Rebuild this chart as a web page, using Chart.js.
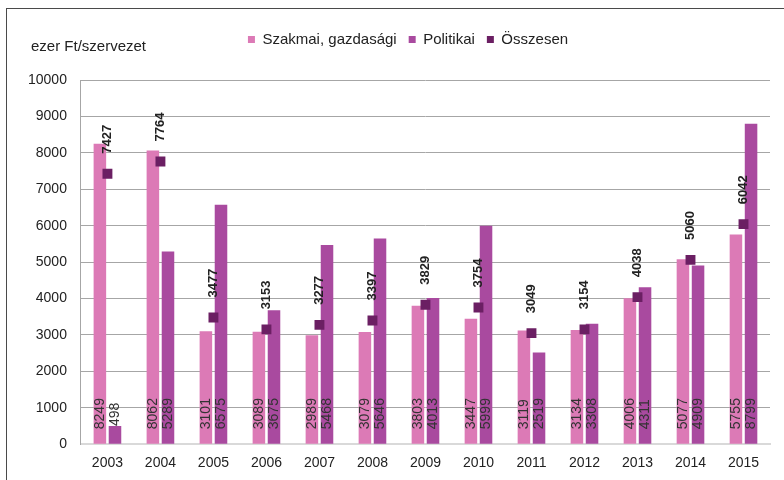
<!DOCTYPE html>
<html>
<head>
<meta charset="utf-8">
<script src="https://cdn.jsdelivr.net/npm/chart.js@4.4.1/dist/chart.umd.min.js"></script>
<style>
  html, body { margin: 0; padding: 0; background: #fff; }
  #wrap { position: relative; width: 784px; height: 480px; overflow: hidden; }
  #frame { position: absolute; left: 6px; top: 8px; width: 900px; height: 600px;
           border-left: 1.5px solid #4a4a4a; border-top: 1.5px solid #4a4a4a; }
  canvas { position: absolute; left: 0; top: 0; }
</style>
</head>
<body>
<div id="wrap">
  <div id="frame"></div>
  <canvas id="c" width="784" height="480"></canvas>
</div>
<script>
const years = ['2003','2004','2005','2006','2007','2008','2009','2010','2011','2012','2013','2014','2015'];
const szakmai = [8249, 8062, 3101, 3089, 2989, 3079, 3803, 3447, 3119, 3134, 4006, 5077, 5755];
const politikai = [498, 5289, 6575, 3675, 5468, 5646, 4013, 5999, 2519, 3308, 4311, 4909, 8799];
const osszesen = [7427, 7764, 3477, 3153, 3277, 3397, 3829, 3754, 3049, 3154, 4038, 5060, 6042];
const yTicks = [0, 1000, 2000, 3000, 4000, 5000, 6000, 7000, 8000, 9000, 10000];
const yAxisTitle = 'ezer Ft/szervezet';

const FONT = '"Liberation Sans", Arial, sans-serif';

const legendSpace = {
  id: 'legendSpace',
  beforeInit(chart) {
    const lg = chart.legend;
    if (!lg) return;
    const orig = lg.fit;
    lg.fit = function () { orig.call(lg); lg.height += 23; };
    const od = lg.draw;
    lg.draw = function () {
      lg.ctx.save(); lg.ctx.translate(16, 0); od.call(lg); lg.ctx.restore();
    };
  }
};

const labelPlugin = {
  id: 'valueLabels',
  afterDatasetsDraw(chart) {
    const ctx = chart.ctx;
    const yScale = chart.scales.y;
    const base = yScale.getPixelForValue(0);
    ctx.save();
    [0, 1].forEach(di => {
      const meta = chart.getDatasetMeta(di);
      meta.data.forEach((el, i) => {
        const v = chart.data.datasets[di].data[i];
        const y0 = (base - el.y) < 45 ? el.y : base - 15;
        ctx.save();
        ctx.translate(el.x, y0);
        ctx.rotate(-Math.PI / 2);
        ctx.font = '14px ' + FONT;
        ctx.fillStyle = '#333333';
        ctx.textAlign = 'left';
        ctx.textBaseline = 'middle';
        ctx.fillText(String(v), 0, 0);
        ctx.restore();
      });
    });
    const meta2 = chart.getDatasetMeta(2);
    meta2.data.forEach((el, i) => {
      const v = chart.data.datasets[2].data[i];
      ctx.save();
      ctx.translate(el.x, el.y - 20);
      ctx.rotate(-Math.PI / 2);
      ctx.font = 'bold 13px ' + FONT;
      ctx.fillStyle = '#222222';
      ctx.textAlign = 'left';
      ctx.textBaseline = 'middle';
      ctx.fillText(String(v), 0, 0);
      ctx.restore();
    });
    ctx.restore();
  },
  afterDraw(chart) {
    const ctx = chart.ctx;
    ctx.save();
    ctx.font = '15px ' + FONT;
    ctx.fillStyle = '#222222';
    ctx.textAlign = 'left';
    ctx.textBaseline = 'middle';
    ctx.fillText(yAxisTitle, 31, 47);
    ctx.restore();
  }
};

new Chart(document.getElementById('c'), {
  data: {
    labels: years,
    datasets: [
      { type: 'bar', label: 'Szakmai, gazdasági', data: szakmai,
        backgroundColor: '#dc7ab6', borderWidth: 0,
        barPercentage: 0.83, categoryPercentage: 0.57 },
      { type: 'bar', label: 'Politikai', data: politikai,
        backgroundColor: '#a94a9f', borderWidth: 0,
        barPercentage: 0.83, categoryPercentage: 0.57 },
      { type: 'line', label: 'Összesen', data: osszesen, order: -1,
        showLine: false, pointStyle: 'rect', pointRadius: 7, pointHoverRadius: 7,
        backgroundColor: '#6b1f63', borderColor: '#6b1f63', borderWidth: 0 }
    ]
  },
  options: {
    responsive: false,
    animation: false,
    events: [],
    layout: { padding: { left: 14, right: 14, top: 20, bottom: 5 } },
    plugins: {
      tooltip: { enabled: false },
      legend: {
        display: true,
        position: 'top',
        labels: {
          font: { family: FONT, size: 15 },
          color: '#222222',
          boxWidth: 7, boxHeight: 7,
          padding: 12,
          generateLabels(chart) {
            return chart.data.datasets.map((ds, i) => ({
              text: ds.label, fillStyle: ds.backgroundColor, strokeStyle: ds.backgroundColor,
              lineWidth: 0, datasetIndex: i, hidden: false, fontColor: '#222222'
            }));
          }
        }
      }
    },
    scales: {
      x: {
        grid: { display: false },
        border: { display: true, color: '#d9d9d9', width: 2 },
        ticks: { font: { family: FONT, size: 14 }, color: '#222222', padding: 3 }
      },
      y: {
        min: 0, max: 10000,
        afterBuildTicks(axis) { axis.ticks = yTicks.map(v => ({ value: v })); },
        grid: { color: '#a6a6a6', lineWidth: 1, drawTicks: false },
        border: { display: true, color: '#a6a6a6', width: 1 },
        ticks: { font: { family: FONT, size: 14 }, color: '#222222', padding: 14,
                 callback: (v) => String(v) }
      }
    }
  },
  plugins: [legendSpace, labelPlugin]
});
</script>
</body>
</html>
